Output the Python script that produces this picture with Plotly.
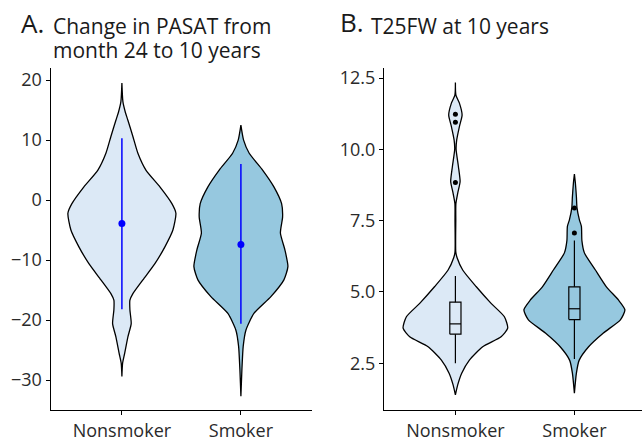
import plotly.graph_objects as go

categories = ["Nonsmoker", "Smoker"]
cat_pos = [1, 2]

# ---- Panel A: Change in PASAT (violin outlines: y value, relative density) ----
a_non_y = [19.5, 16.4, 14.6, 13.3, 10.6, 7.8, 5.0, 2.2, -0.6, -2.2, -5.0, -7.8, -10.6,
           -13.3, -15.6, -16.7, -18.3, -20.6, -22.8, -25.6, -27.2, -29.4]
a_non_d = [0.0, 1.0, 3.5, 6.0, 11.0, 16.0, 24.0, 38.0, 50.0, 54.0, 51.0, 43.0, 33.0,
           21.0, 11.0, 8.0, 8.0, 9.3, 6.0, 2.7, 0.7, 0.0]
a_smk_y = [12.5, 10.0, 7.8, 5.0, 2.2, -0.6, -2.8, -5.5, -8.3, -11.1, -13.3, -16.1,
           -18.9, -21.7, -24.4, -28.3, -32.7]
a_smk_d = [0.0, 2.7, 8.3, 21.7, 33.0, 40.7, 41.7, 39.5, 44.0, 47.0, 43.0, 30.0,
           13.0, 5.0, 2.3, 1.0, 0.0]
a_mean = [-3.9, -7.4]
a_low = [-18.2, -20.6]
a_high = [10.3, 6.0]

# ---- Panel B: T25FW at 10 years ----
b_non_y = [12.34, 11.9, 11.62, 11.2, 10.8, 10.33, 10.0, 9.4, 8.87, 8.46, 8.1, 7.5, 6.4,
           6.2, 5.77, 5.19, 4.6, 4.13, 3.73, 3.43, 3.08, 2.61, 2.15, 1.74, 1.39]
b_non_d = [0.0, 0.5, 4.0, 6.7, 4.0, 1.3, 0.7, 3.0, 4.7, 2.3, 0.5, 0.4, 0.4,
           1.7, 7.3, 20.7, 35.7, 49.0, 52.3, 45.7, 27.3, 14.0, 6.3, 2.3, 0.0]
b_smk_y = [9.13, 8.81, 8.34, 7.95, 7.53, 7.3, 6.8, 6.37, 5.77, 5.18, 4.72, 4.37, 4.02,
           3.56, 3.07, 2.6, 2.15, 1.45]
b_smk_d = [0.0, 1.0, 2.0, 2.6, 5.0, 7.0, 7.5, 10.0, 21.0, 32.0, 44.0, 50.5, 46.0,
           29.0, 14.0, 4.7, 2.0, 0.0]
b_q1 = [3.52, 4.03]
b_med = [3.88, 4.41]
b_q3 = [4.64, 5.18]
b_lo = [2.5, 2.65]
b_hi = [5.56, 6.8]
b_out_non = [11.23, 10.95, 8.84]
b_out_smk = [7.94, 7.07]

FILL = ["#DCE9F6", "#96C8DF"]
DENS_SCALE = 1.0 / 119.0  # relative density -> category-axis units
BOX_HALF = 0.047           # half box width in category units

W, H = 642, 438


def violin(xc, ys, ds, color, xa, ya):
    xs = [xc + d * DENS_SCALE for d in ds] + [xc - d * DENS_SCALE for d in reversed(ds)]
    yy = list(ys) + list(reversed(ys))
    xs.append(xs[0])
    yy.append(yy[0])
    return go.Scatter(x=xs, y=yy, mode="lines", fill="toself", fillcolor=color,
                      line=dict(color="black", width=1.3, shape="spline", smoothing=0.6),
                      xaxis=xa, yaxis=ya, hoverinfo="skip")


fig = go.Figure()
fig.add_trace(violin(cat_pos[0], a_non_y, a_non_d, FILL[0], "x", "y"))
fig.add_trace(violin(cat_pos[1], a_smk_y, a_smk_d, FILL[1], "x", "y"))

# mean and range (blue)
lx, ly = [], []
for p, lo, hi in zip(cat_pos, a_low, a_high):
    lx += [p, p, None]
    ly += [lo, hi, None]
fig.add_trace(go.Scatter(x=lx, y=ly, mode="lines", line=dict(color="#0000FF", width=1.5),
                         xaxis="x", yaxis="y"))
fig.add_trace(go.Scatter(x=cat_pos, y=a_mean, mode="markers",
                         marker=dict(color="#0000FF", size=7), xaxis="x", yaxis="y"))

fig.add_trace(violin(cat_pos[0], b_non_y, b_non_d, FILL[0], "x2", "y2"))
fig.add_trace(violin(cat_pos[1], b_smk_y, b_smk_d, FILL[1], "x2", "y2"))

# boxplots drawn as line paths from the box statistics
bx, by = [], []
for p, q1, md, q3, lo, hi in zip(cat_pos, b_q1, b_med, b_q3, b_lo, b_hi):
    bx += [p - BOX_HALF, p + BOX_HALF, p + BOX_HALF, p - BOX_HALF, p - BOX_HALF, None]
    by += [q1, q1, q3, q3, q1, None]
    bx += [p - BOX_HALF, p + BOX_HALF, None]
    by += [md, md, None]
    bx += [p, p, None, p, p, None]
    by += [lo, q1, None, q3, hi, None]
fig.add_trace(go.Scatter(x=bx, y=by, mode="lines", line=dict(color="black", width=1.2),
                         xaxis="x2", yaxis="y2", hoverinfo="skip"))
fig.add_trace(go.Scatter(x=[cat_pos[0]] * len(b_out_non) + [cat_pos[1]] * len(b_out_smk),
                         y=b_out_non + b_out_smk, mode="markers",
                         marker=dict(color="black", size=5), xaxis="x2", yaxis="y2"))

ydom = [(H - 410) / H, (H - 67.5) / H]
common = dict(showline=True, linecolor="black", linewidth=1, ticks="outside", ticklen=4,
              tickcolor="black", tickwidth=1, showgrid=False, zeroline=False,
              tickfont=dict(family="Open Sans", size=18, color="#2a2a2a"), automargin=False)

fig.update_layout(
    width=W, height=H, margin=dict(l=0, r=0, t=0, b=0),
    paper_bgcolor="white", plot_bgcolor="white", showlegend=False,
    font=dict(family="Open Sans", color="#1a1a1a"),
    xaxis=dict(domain=[50.5 / W, (50.5 + 2.2 * 119) / W], range=[0.4, 2.6],
               tickvals=cat_pos, ticktext=categories, anchor="y", **common),
    yaxis=dict(domain=ydom, range=[-35.0, 22.1], tickvals=[-30, -20, -10, 0, 10, 20],
               anchor="x", **common),
    xaxis2=dict(domain=[384 / W, 1.0], range=[0.4, 0.4 + 258 / 119],
                tickvals=cat_pos, ticktext=categories, anchor="y2", **common),
    yaxis2=dict(domain=ydom, range=[0.86, 12.87], tickvals=[2.5, 5.0, 7.5, 10.0, 12.5],
                tickformat=".1f", anchor="x2", **common),
)


def ann(text, xpx, ypx, size):
    fig.add_annotation(text=text, x=xpx / W, y=1 - ypx / H, xref="paper", yref="paper",
                       xanchor="left", yanchor="middle", showarrow=False,
                       font=dict(family="Open Sans", size=size, color="#1a1a1a"))


ann("A.", 19, 23, 26)
ann("Change in PASAT from", 51, 26, 21)
ann("month 24 to 10 years", 51, 50, 21)
ann("B.", 338, 22, 26)
ann("T25FW at 10 years", 369, 26, 21)

fig.write_html("out.html", config={"displayModeBar": False},
               post_script="document.body.style.margin='0px';document.body.style.padding='0px';")
